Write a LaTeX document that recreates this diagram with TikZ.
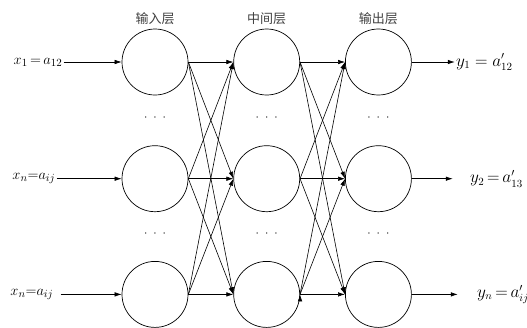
\documentclass[tikz,border=0pt]{standalone}
\usepackage{fontspec}
\newfontfamily\cjk{Noto Sans CJK SC}
\usepackage{tikz}
\usetikzlibrary{positioning,arrows.meta,calc}
\tikzset{main node/.style={circle,draw,minimum size=66pt,inner sep=0pt,line width=0.7pt},
         in node/.style={inner sep=1pt,font=\fontsize{15}{17}\selectfont},
         out node/.style={inner sep=1pt,font=\fontsize{16}{18}\selectfont},
         dots node/.style={font=\large},
         layer node/.style={font=\cjk\fontsize{13}{15}\selectfont,text=black!75},
            }

\begin{document}
\begin{tikzpicture}[>={Latex[length=7pt,width=4.5pt]},line width=0.6pt]
    \useasboundingbox (0,0) rectangle (527pt,-327pt);
    \node[main node] (1) at (155pt,-62pt) {};
    \node[main node] (2) [below =50pt of 1] {};
    \node[main node] (3) [below =49pt of 2] {};
    \node[main node] (4) [right =45pt of 1] {};
    \node[main node] (5) [right =45pt of 2] {};
    \node[main node] (6) [right =45pt of 3] {};
    \node[main node] (7) [right =45pt of 4] {};
    \node[main node] (8) [right =45pt of 5] {};
    \node[main node] (9) [right =45pt of 6] {};

    \node[layer node] (l1) [above =0pt of 1] {输入层};
    \node[layer node] (l2) [above =0pt of 4] {中间层};
    \node[layer node] (l3) [above =0pt of 7] {输出层};

    \node[dots node] (d1) at ($(1)!0.48!(2)$) {$\cdot\;\cdot\;\cdot$};
    \node[dots node] (d2) at ($(4)!0.48!(5)$) {$\cdot\;\cdot\;\cdot$};
    \node[dots node] (d3) at ($(7)!0.48!(8)$) {$\cdot\;\cdot\;\cdot$};
    \node[dots node] (d4) at ($(2)!0.48!(3)$) {$\cdot\;\cdot\;\cdot$};
    \node[dots node] (d5) at ($(5)!0.48!(6)$) {$\cdot\;\cdot\;\cdot$};
    \node[dots node] (d6) at ($(8)!0.48!(9)$) {$\cdot\;\cdot\;\cdot$};

    \node[in node] (x1) [left =58pt of 1] {$x_1 \,{=}\, a_{12}$};
    \node[in node] (x2) [left =65pt of 2] {$x_n {=} a_{ij}$};
    \node[in node] (x3) [left =67pt of 3] {$x_n {=} a_{ij}$};
    \node[out node] (y1) [right =43pt of 7] {$y_1 = a'_{12}$};
    \node[out node] (y2) [right =57pt of 8] {$y_2 \,{=}\, a'_{13}$};
    \node[out node] (y3) [right =64pt of 9] {$y_n \,{=}\, a'_{ij}$};

    \path[draw,->]
    (x1) edge (1)
    (x2) edge (2)
    (x3) edge[shorten <=6pt] (3)
    (7) edge (y1)
    (8) edge[shorten >=16pt] (y2)
    (9) edge[shorten >=18pt] (y3)
    ;
    \path[draw,->]
    (1.east) edge (4.west)
    (1.east) edge (5.west)
    (1.east) edge (6.west)
    (2.east) edge (4.west)
    (2.east) edge (5.west)
    (2.east) edge (6.west)
    (3.east) edge (4.west)
    (3.east) edge (5.west)
    (3.east) edge (6.west)
    (4.east) edge (7.west)
    (4.east) edge (8.west)
    (4.east) edge (9.west)
    (5.east) edge (7.west)
    (5.east) edge (8.west)
    (5.east) edge (9.west)
    (6.east) edge (7.west)
    (6.east) edge (8.west)
    (6.east) edge (9.west)
    ;
    %%
\end{tikzpicture}
\end{document}
